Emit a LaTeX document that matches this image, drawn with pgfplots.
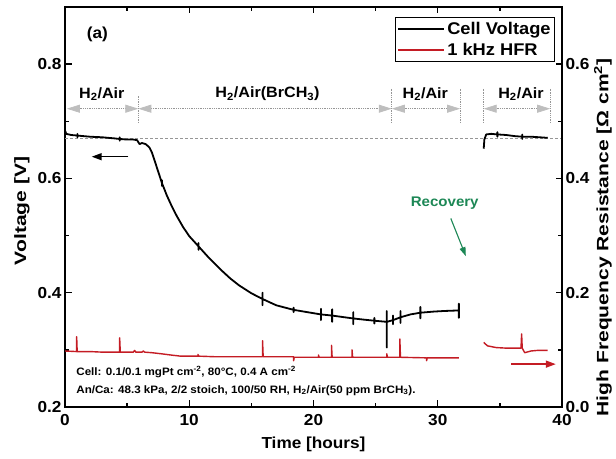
\documentclass[border=0pt]{standalone}
\usepackage{fontspec}
\setmainfont{Liberation Sans}[FakeStretch=1.08]
\newfontfamily\widefont{Liberation Sans}[FakeStretch=1.28]
\usepackage{pgfplots}
\pgfplotsset{compat=1.18}
\usetikzlibrary{arrows.meta}
\definecolor{hfrred}{RGB}{196,28,36}
\definecolor{recgreen}{RGB}{28,135,85}
\definecolor{annogray}{RGB}{150,150,150}
\definecolor{headgray}{RGB}{190,190,190}
\newcommand{\fs}[1]{\fontsize{#1}{#1}\selectfont}
\begin{document}
\begin{tikzpicture}
\pgfplotsset{
  common/.style={
    scale only axis, width=497bp, height=400bp,
    xmin=0, xmax=40,
    axis line style={line width=2.2bp},
    tick style={line width=1.4bp, black},
    major tick length=6.5bp, minor tick length=4bp,
    tick align=inside,
    /pgf/number format/assume math mode=true,
    ticklabel style={font=\bfseries\fs{16}},
    label style={font=\bfseries\fs{16}},
  }
}
\begin{axis}[common, name=ax,
  ymin=0.2, ymax=0.9,
  xtick={0,10,20,30,40}, minor xtick={5,15,25,35},
  xtick pos=both, xticklabel pos=lower,
  xticklabel style={yshift=-3.5bp},
  ytick={0.2,0.4,0.6,0.8}, minor ytick={0.3,0.5,0.7},
  ytick pos=left,
  yticklabel style={/pgf/number format/.cd, fixed, fixed zerofill, precision=1},
  xlabel={Time [hours]}, ylabel={Voltage [V]},
  xlabel style={at={(axis description cs:0.5,-0.094)}, anchor=center},
  ylabel style={at={(axis description cs:-0.0865,0.49)}, anchor=center, font=\widefont\bfseries\fs{16.5}},
]
% dashed reference line
\addplot[annogray, line width=0.7bp, dash pattern=on 3bp off 2bp, forget plot] coordinates {(0,0.671) (40,0.671)};
% cell voltage, exposure period
\addplot[black, line width=1.8bp, line join=round] coordinates {
(0,0.684) (0.1,0.678) (0.5,0.676) (1,0.675) (1,0.678) (1,0.672) (1,0.675) (2,0.673) (3,0.672) (4,0.670) (4.4,0.669) (4.4,0.672) (4.4,0.666) (4.4,0.669) (5,0.668) (5.5,0.668) (5.8,0.667) (6.0,0.660) (6.2,0.662) (6.5,0.660) (6.8,0.654) (7.0,0.645) (7.26,0.628) (7.5,0.612) (7.8,0.592) (7.8,0.597) (7.8,0.587) (7.8,0.592) (8.2,0.570) (8.6,0.551) (9.0,0.534) (9.5,0.515) (10,0.499) (10.75,0.481) (10.75,0.487) (10.75,0.475) (10.75,0.481) (11.5,0.463) (12.5,0.441) (13.3,0.425) (14,0.413) (15,0.399) (15.9,0.389) (15.9,0.400) (15.9,0.378) (15.9,0.389) (17,0.378) (18.4,0.370) (18.4,0.374) (18.4,0.366) (18.4,0.370) (19.5,0.366) (20.6,0.362) (20.6,0.372) (20.6,0.352) (20.6,0.362) (21.5,0.360) (21.5,0.371) (21.5,0.349) (21.5,0.360) (22.5,0.357) (23.2,0.355) (23.2,0.366) (23.2,0.345) (23.2,0.355) (24,0.353) (24.9,0.351) (24.9,0.356) (24.9,0.346) (24.9,0.351) (25.9,0.349) (25.9,0.368) (25.9,0.304) (25.9,0.349) (26.4,0.352) (26.4,0.360) (26.4,0.345) (26.4,0.352) (27,0.357) (27,0.368) (27,0.347) (27,0.357) (27.8,0.362) (28.6,0.365) (28.6,0.375) (28.6,0.355) (28.6,0.365) (29.7,0.367) (30.5,0.368) (31.7,0.369) (31.7,0.381) (31.7,0.356) (31.7,0.369)
};
% cell voltage, recovery
\addplot[black, line width=1.8bp, line join=round, forget plot] coordinates {
(33.7,0.652) (33.75,0.668) (33.9,0.677) (34.3,0.678) (34.8,0.677) (34.8,0.681) (34.8,0.673) (34.8,0.677) (35.5,0.676) (36.2,0.674) (36.8,0.673) (36.8,0.677) (36.8,0.669) (36.8,0.673) (37.5,0.673) (38.2,0.672) (38.85,0.671)
};
% annotations
\node[font=\bfseries\fs{16}] at (axis cs:2.6,0.852) {(a)};
\begin{scope}[font=\bfseries\fs{15}]
\node at (axis cs:2.96,0.748) {H\textsubscript{2}/Air};
\node at (axis cs:16.3,0.748) {H\textsubscript{2}/Air(BrCH\textsubscript{3})};
\node at (axis cs:29.0,0.748) {H\textsubscript{2}/Air};
\node at (axis cs:36.7,0.748) {H\textsubscript{2}/Air};
\end{scope}
\begin{scope}[annogray, line width=0.8bp, densely dotted]
\draw[{Triangle[length=13bp,width=8bp,color=headgray]}-{Triangle[length=13bp,width=8bp,color=headgray]}] (axis cs:0.15,0.722) -- (axis cs:5.9,0.722);
\draw[{Triangle[length=13bp,width=8bp,color=headgray]}-{Triangle[length=13bp,width=8bp,color=headgray]}] (axis cs:5.9,0.722) -- (axis cs:26.3,0.722);
\draw[{Triangle[length=13bp,width=8bp,color=headgray]}-{Triangle[length=13bp,width=8bp,color=headgray]}] (axis cs:26.3,0.722) -- (axis cs:31.8,0.722);
\draw[{Triangle[length=13bp,width=8bp,color=headgray]}-{Triangle[length=13bp,width=8bp,color=headgray]}] (axis cs:33.7,0.722) -- (axis cs:39.05,0.722);
\draw (axis cs:5.9,0.697) -- (axis cs:5.9,0.745);
\draw (axis cs:26.3,0.697) -- (axis cs:26.3,0.757);
\draw (axis cs:31.8,0.697) -- (axis cs:31.8,0.757);
\draw (axis cs:33.7,0.697) -- (axis cs:33.7,0.757);
\draw (axis cs:39.05,0.697) -- (axis cs:39.05,0.757);
\end{scope}
\draw[black, line width=1.5bp, -{Triangle[length=10bp,width=7bp]}] (axis cs:5.1,0.638) -- (axis cs:2.15,0.638);
\draw[hfrred, line width=1.5bp, -{Triangle[length=10bp,width=7bp]}] (axis cs:35.9,0.275) -- (axis cs:39.5,0.275);
\node[recgreen, font=\bfseries\fs{14}] at (axis cs:30.56,0.556) {Recovery};
\draw[recgreen, line width=1.1bp, -{Triangle[length=9bp,width=6bp]}] (axis cs:31.05,0.530) -- (axis cs:32.26,0.464);
\node[anchor=west, font=\bfseries\fs{10.8}, inner sep=0pt] at (axis cs:0.9,0.262) {Cell: 0.1/0.1 mgPt cm\textsuperscript{-2}, 80°C, 0.4 A cm\textsuperscript{-2}};
\node[anchor=west, font=\bfseries\fs{10.8}, inner sep=0pt] at (axis cs:0.9,0.229) {An/Ca: 48.3 kPa, 2/2 stoich, 100/50 RH, H\textsubscript{2}/Air(50 ppm BrCH\textsubscript{3}).};
\end{axis}
\begin{axis}[common,
  ymin=0, ymax=0.7,
  axis x line=none, axis y line*=right,
  ytick={0,0.2,0.4,0.6}, minor ytick={0.1,0.3,0.5},
  yticklabel style={/pgf/number format/.cd, fixed, fixed zerofill, precision=1},
  ylabel={High Frequency Resistance [Ω cm\textsuperscript{2}]},
  ylabel style={at={(axis description cs:1.0825,0.424)}, anchor=center, font=\widefont\bfseries\fs{16.5}},
  legend style={at={(axis description cs:0.986,0.975)}, anchor=north east, draw=black, line width=0.9bp, font=\bfseries\fs{17}, inner xsep=2bp, inner ysep=3bp, row sep=3bp, legend cell align=left},
  legend image code/.code={\draw[#1] (0bp,0bp) -- (46bp,0bp);},
]
\addlegendimage{black, line width=1.8bp}
\addlegendentry{Cell Voltage}
\addplot[hfrred, line width=1.4bp, line join=round] coordinates {
(0,0.098) (0.9,0.097) (0.94,0.097) (0.94,0.123) (0.98,0.097) (2,0.097) (3,0.096) (4.4,0.096) (4.4,0.121) (4.45,0.096) (5.5,0.096) (5.6,0.099) (5.7,0.096) (6.2,0.096) (6.3,0.098) (6.4,0.096) (7,0.095) (7.8,0.093) (8.5,0.091) (9.3,0.089) (10,0.089) (10.7,0.089) (10.7,0.092) (10.75,0.089) (12,0.088) (14,0.088) (15.9,0.088) (15.9,0.116) (15.95,0.088) (17,0.088) (18.4,0.088) (18.4,0.081) (18.45,0.087) (20.4,0.087) (20.4,0.091) (20.45,0.087) (21.45,0.087) (21.45,0.108) (21.5,0.087) (23.1,0.087) (23.1,0.100) (23.15,0.087) (25.9,0.087) (25.9,0.093) (25.95,0.087) (26.95,0.087) (26.95,0.119) (27,0.087) (29.1,0.086) (29.1,0.081) (29.15,0.086) (31.7,0.086)
};
\addlegendentry{1 kHz HFR}
\addplot[hfrred, line width=1.4bp, line join=round, forget plot] coordinates {
(33.7,0.113) (34,0.107) (34.7,0.104) (35.5,0.103) (36.7,0.103) (36.75,0.128) (36.8,0.103) (37.0,0.095) (37.5,0.098) (38,0.099) (38.85,0.099)
};
\end{axis}
\path[use as bounding box] ([xshift=-65bp,yshift=-52bp]ax.south west) rectangle ([xshift=54bp,yshift=7bp]ax.north east);
\end{tikzpicture}
\end{document}
